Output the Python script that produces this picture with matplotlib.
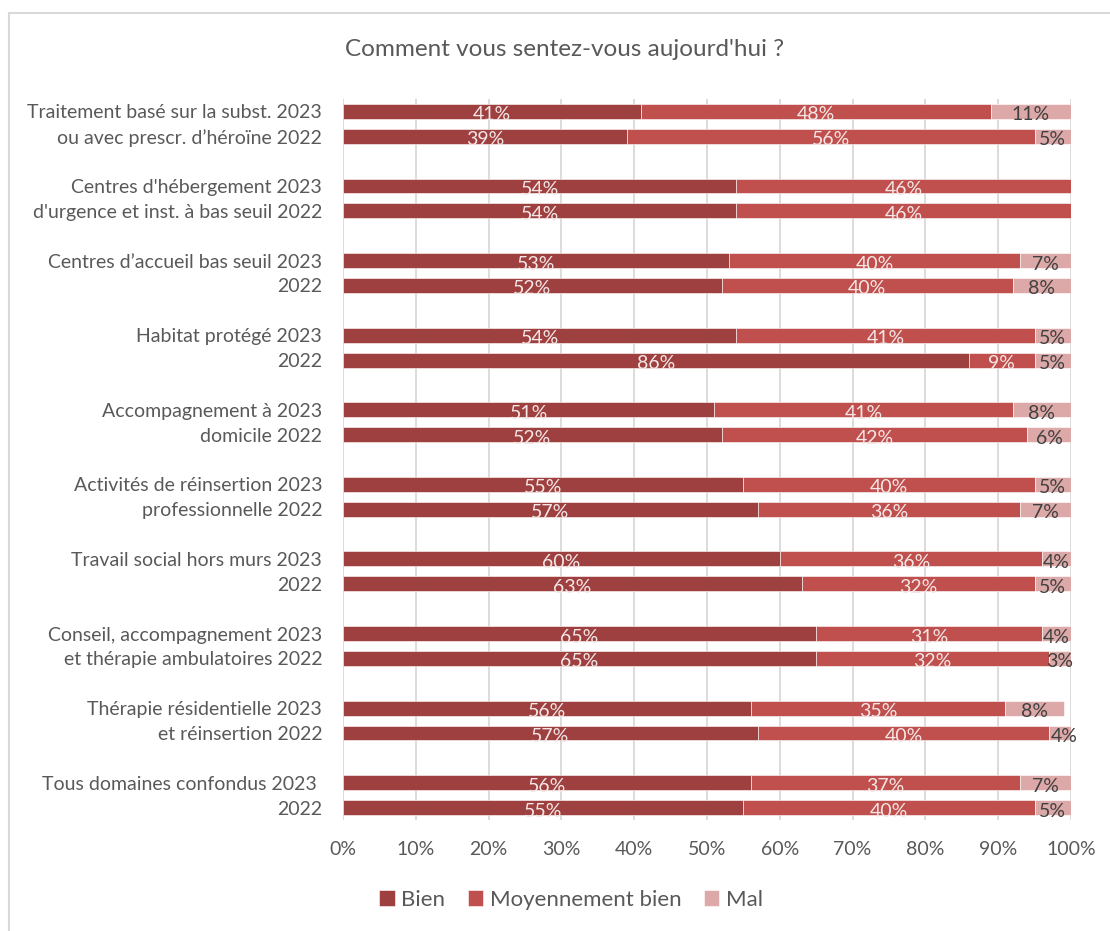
import matplotlib.pyplot as plt
from matplotlib.lines import Line2D
import numpy as np

plt.rcParams['font.family'] = ['Lato', 'DejaVu Sans']

# Survey answers per service type, 2023 then 2022 (percent)
labels_2023 = [
    "Traitement basé sur la subst. 2023",
    "Centres d'hébergement 2023",
    "Centres d’accueil bas seuil 2023",
    "Habitat protégé 2023",
    "Accompagnement à 2023",
    "Activités de réinsertion 2023",
    "Travail social hors murs 2023",
    "Conseil, accompagnement 2023",
    "Thérapie résidentielle 2023",
    "Tous domaines confondus 2023 ",
]
labels_2022 = [
    "ou avec prescr. d’héroïne 2022",
    "d'urgence et inst. à bas seuil 2022",
    "2022",
    "2022",
    "domicile 2022",
    "professionnelle 2022",
    "2022",
    "et thérapie ambulatoires 2022",
    "et réinsertion 2022",
    "2022",
]
bien_2023 = [41, 54, 53, 54, 51, 55, 60, 65, 56, 56]
moyen_2023 = [48, 46, 40, 41, 41, 40, 36, 31, 35, 37]
mal_2023 = [11, 0, 7, 5, 8, 5, 4, 4, 8, 7]
bien_2022 = [39, 54, 52, 86, 52, 57, 63, 65, 57, 55]
moyen_2022 = [56, 46, 40, 9, 42, 36, 32, 32, 40, 40]
mal_2022 = [5, 0, 8, 5, 6, 7, 5, 3, 4, 5]

series_names = ["Bien", "Moyennement bien", "Mal"]
colors = ["#9e403f", "#c0504d", "#dca9a8"]
text_colors = ["#f4e6e6", "#f4e6e6", "#404040"]

# interleave years: each group takes 3 slots (2023, 2022, blank)
n = len(labels_2023)
pos = []
ticklabels = []
vals = {0: [], 1: [], 2: []}
for i in range(n):
    pos += [3 * i, 3 * i + 1]
    ticklabels += [labels_2023[i], labels_2022[i]]
    vals[0] += [bien_2023[i], bien_2022[i]]
    vals[1] += [moyen_2023[i], moyen_2022[i]]
    vals[2] += [mal_2023[i], mal_2022[i]]
pos = np.array(pos)

fig = plt.figure(figsize=(11.1, 9.31), dpi=100)
ax = fig.add_axes([343 / 1110, 1 - 820 / 931, 728 / 1110, 721 / 931])

left = np.zeros(len(pos))
for k in range(3):
    v = np.array(vals[k]) / 100
    ax.barh(pos, v, left=left, height=0.6, color=colors[k],
            edgecolor='white', linewidth=0.4, label=series_names[k], zorder=3)
    for y, l, w in zip(pos, left, v):
        if w > 0:
            ax.text(l + w / 2, y + 0.14, f"{round(w * 100)}%", ha='center', va='center',
                    fontsize=14, color=text_colors[k], zorder=4)
    left = left + v

ax.set_xlim(0, 1)
ax.set_ylim(28.5, -0.5)
ax.set_xticks(np.arange(0, 1.01, 0.1))
ax.set_xticklabels([f"{t}%" for t in range(0, 101, 10)])
ax.set_yticks(pos)
ax.set_yticklabels(ticklabels)
ax.tick_params(axis='both', length=0, labelsize=14, labelcolor='#595959')
ax.tick_params(axis='y', pad=15)
ax.tick_params(axis='x', pad=15)
ax.grid(axis='x', color='#d9d9d9', linewidth=1.3, zorder=0)
for s in ax.spines.values():
    s.set_visible(False)

fig.text(565 / 1110, 1 - 50 / 931, "Comment vous sentez-vous aujourd'hui ?",
         ha='center', va='center', fontsize=17.5, color='#595959')

fig.legend(loc='center', bbox_to_anchor=(571 / 1110, 1 - 900 / 931), ncol=3,
           frameon=False, fontsize=16, labelcolor='#595959',
           handlelength=0.7, handleheight=0.7, handletextpad=0.3, columnspacing=1.0)

# chart area border (top and left edges)
fig.add_artist(Line2D([9 / 1110, 1], [1 - 13 / 931, 1 - 13 / 931], color='#d9d9d9', lw=1.5))
fig.add_artist(Line2D([9 / 1110, 9 / 1110], [0, 1 - 13 / 931], color='#d9d9d9', lw=1.5))

fig.savefig("out.png", dpi=100)
